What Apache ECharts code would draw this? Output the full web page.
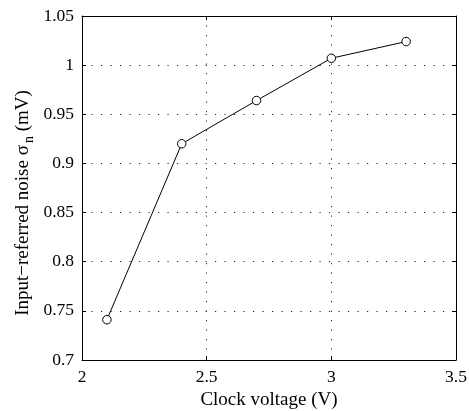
<!DOCTYPE html>
<html><head><meta charset="utf-8">
<script src="https://cdn.jsdelivr.net/npm/echarts@6/dist/echarts.min.js"></script>
<style>html,body{margin:0;padding:0;background:#fff}#c{width:469px;height:411px}</style>
</head><body><div id="c"></div>
<script>
var clockVoltage = [2.1, 2.4, 2.7, 3.0, 3.3];
var noise = [0.741, 0.920, 0.964, 1.007, 1.024];
var xTicks = [2, 2.5, 3, 3.5];
var yTicks = [0.7, 0.75, 0.8, 0.85, 0.9, 0.95, 1, 1.05];
var xTitle = 'Clock voltage (V)';
var yTitleMain = 'Input\u2212referred noise \u03c3';
var yTitleSub = 'n';
var yTitleUnit = ' (mV)';

var F = 'Liberation Serif';
var chart = echarts.init(document.getElementById('c'));
var gridLine = {show: true, lineStyle: {color: '#222', type: [1.2, 8.3], width: 1}};
var axisBase = {
  axisLine: {show: true, onZero: false, lineStyle: {color: '#000', width: 1}},
  axisTick: {show: true, inside: true, length: 4, lineStyle: {color: '#000'}},
  splitLine: {show: false}
};
chart.setOption({
  animation: false,
  grid: {left: 82, top: 16, right: 13, bottom: 51, containLabel: false, outerBoundsMode: 'none'},
  xAxis: [
    Object.assign({}, axisBase, {type: 'value', min: 2, max: 3.5, interval: 0.5,
      name: xTitle, nameLocation: 'middle', nameGap: 21,
      nameTextStyle: {color: '#000', fontFamily: F, fontSize: 19},
      axisLabel: {color: '#000', fontFamily: F, fontSize: 17.5, margin: 8,
        formatter: function(v){ return xTicks.indexOf(v) >= 0 ? String(v) : ''; }},
      splitLine: gridLine}),
    Object.assign({}, axisBase, {type: 'value', position: 'top', min: 2, max: 3.5, interval: 0.5,
      axisLabel: {show: false}})
  ],
  yAxis: [
    Object.assign({}, axisBase, {type: 'value', min: 0.7, max: 1.05, interval: 0.05,
      axisLabel: {color: '#000', fontFamily: F, fontSize: 17.5, margin: 8,
        formatter: function(v){ var r = Math.round(v*100)/100; return yTicks.indexOf(r) >= 0 ? String(r) : ''; }},
      splitLine: gridLine}),
    Object.assign({}, axisBase, {type: 'value', position: 'right', min: 0.7, max: 1.05, interval: 0.05,
      axisLabel: {show: false}})
  ],
  graphic: [{
    type: 'text', x: 23, y: 203, rotation: Math.PI / 2,
    style: {
      text: '{a|' + yTitleMain + '}{s|' + yTitleSub + '}{a|' + yTitleUnit + '}',
      align: 'center', verticalAlign: 'middle',
      rich: {a: {fontFamily: F, fontSize: 19, fill: '#000'},
             s: {fontFamily: F, fontSize: 14, fill: '#000', padding: [12, 0, 0, 2]}}
    }
  }],
  series: [{
    type: 'line',
    data: clockVoltage.map(function(x, i){ return [x, noise[i]]; }),
    symbol: 'circle', symbolSize: 8.5,
    lineStyle: {color: '#000', width: 1},
    itemStyle: {color: '#fff', borderColor: '#000', borderWidth: 1},
    z: 5
  }]
});
</script></body></html>
